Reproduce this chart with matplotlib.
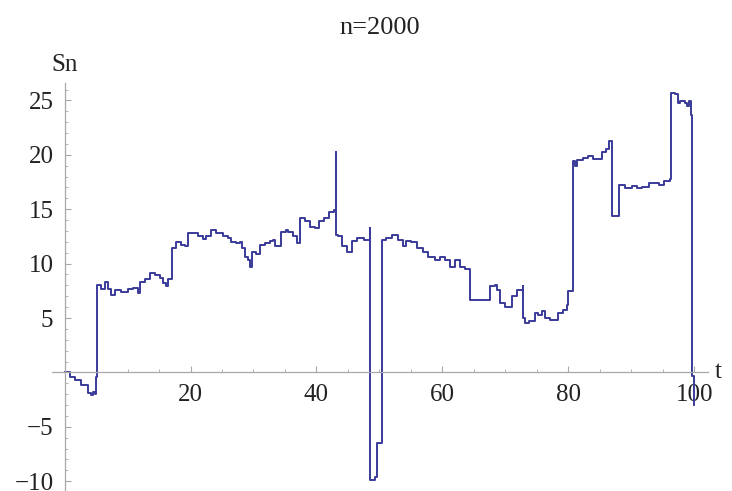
import matplotlib
matplotlib.use("Agg")
import matplotlib.pyplot as plt
from matplotlib.ticker import MultipleLocator, FixedLocator

# path of the walk (t, Sn)
t_vals = [0, 0.8, 1.6, 2.65, 3.7, 4.2, 4.5, 4.8, 5.0, 5.1, 5.15, 5.8, 6.35, 6.9, 7.4, 7.95, 9.0,
          10.1, 10.9, 11.7, 11.9, 12.7, 13.5, 14.3, 15.1, 15.6, 16.15, 16.4, 17.0, 17.1, 17.7,
          18.5, 19.2, 19.6, 20.6, 21.2, 22.0, 22.5, 23.3, 24.1, 25.2, 26.0, 26.5, 27.3, 27.9,
          28.2, 28.6, 29.1, 29.5, 29.8, 30.4, 31.0, 31.8, 32.6, 33.1, 33.5, 34.0, 34.4, 35.2,
          35.5, 36.3, 36.95, 37.4, 38.2, 39.0, 39.8, 40.35, 41.15, 41.95, 42.8, 43.0, 43.05,
          43.1, 43.5, 44.1, 44.9, 45.4, 45.7, 46.5, 47.6, 48.4, 48.45, 48.5, 49.3, 49.6, 50.3,
          50.35, 51.1, 52.05, 53.0, 53.8, 54.3, 55.1, 55.9, 57.0, 57.8, 58.85, 59.6, 60.4, 61.2,
          62.0, 62.8, 63.6, 64.3, 64.35, 67.3, 67.6, 68.4, 68.65, 69.2, 70.0, 70.2, 71.0, 71.8,
          72.75, 72.8, 73.1, 73.8, 74.3, 74.7, 75.2, 75.8, 76.3, 77.1, 77.9, 78.4, 79.2, 79.75,
          80.0, 80.65, 80.7, 81.1, 81.45, 82.4, 83.2, 84.0, 84.8, 85.3, 86.0, 86.4, 86.9, 86.95,
          88.0, 88.05, 89.0, 90.1, 90.9, 91.7, 92.75, 93.55, 94.35, 95.15, 96.2, 96.3, 97.0,
          97.4, 97.8, 98.6, 98.9, 99.2, 99.45, 99.7, 100]
sn_vals = [0, -0.4, -0.7, -1.15, -1.9, -2.1, -1.8, -2.0, -0.4, -0.4, 8.05, 7.7, 8.3, 7.7, 7.1, 7.6, 7.4,
           7.65, 7.75, 7.3, 8.35, 8.55, 9.1, 8.95, 8.65, 8.2, 7.9, 8.6, 8.6, 11.4, 12.0,
           11.7, 11.6, 12.85, 12.85, 12.5, 12.25, 12.5, 13.05, 12.8, 12.5, 12.35, 12.0, 11.9, 12.0,
           11.4, 10.65, 10.35, 9.7, 11.1, 10.9, 11.7, 11.85, 12.1, 12.2, 11.6, 11.6, 12.95, 13.1,
           12.95, 12.5, 11.9, 14.2, 13.9, 13.4, 13.3, 13.9, 14.2, 14.7, 14.9, 14.95, 20.3,
           12.65, 12.5, 11.6, 11.1, 11.1, 12.05, 12.35, 12.2, 12.2, 13.25, -9.9, -9.6, -6.5, -6.5,
           12.2, 12.35, 12.65, 12.2, 11.6, 12.05, 12.0, 11.4, 11.1, 10.65, 10.35, 10.65, 10.35, 9.7,
           10.3, 9.7, 9.5, 9.5, 6.65, 6.65, 7.9, 8.0, 7.6, 6.35, 6.05, 6.05, 7.0, 7.6,
           7.9, 5.0, 4.5, 4.7, 4.7, 5.45, 5.3, 5.6, 5.0, 4.8, 4.8, 5.45, 5.75, 6.2,
           7.5, 7.5, 19.4, 18.95, 19.55, 19.7, 19.9, 19.6, 19.6, 20.3, 20.5, 21.25, 21.25, 14.35,
           14.35, 17.25, 16.95, 17.1, 16.95, 17.0, 17.4, 17.4, 17.25, 17.55, 17.75, 25.7, 25.55,
           24.75, 24.9, 24.75, 24.45, 24.9, 23.7, -0.3, -3.0]

x_major = [20, 40, 60, 80, 100]
y_major = [-10, -5, 5, 10, 15, 20, 25]

plt.rcParams['font.family'] = ['Liberation Serif', 'DejaVu Serif']

fig = plt.figure(figsize=(7.32, 4.91), dpi=100)
ax = fig.add_axes([52 / 732, 0.0, 656 / 732, 1 - 83 / 491])

ax.plot(t_vals, sn_vals, color="#3a3a9a", lw=1.4, drawstyle="steps-post", clip_on=False)

ax.set_xlim(-2, 102.2)
ax.set_ylim(-10.9, 26.6)

for side in ["top", "right"]:
    ax.spines[side].set_visible(False)
ax.spines["left"].set_position(("data", 0))
ax.spines["bottom"].set_position(("data", 0))
for side in ["left", "bottom"]:
    ax.spines[side].set_color("#a8a8a8")
    ax.spines[side].set_linewidth(0.9)

ax.xaxis.set_major_locator(FixedLocator(x_major))
ax.xaxis.set_minor_locator(MultipleLocator(5))
ax.yaxis.set_major_locator(FixedLocator(y_major))
ax.yaxis.set_minor_locator(MultipleLocator(1))
ax.set_yticklabels(["\u2212" + str(-v) if v < 0 else str(v) for v in y_major])

ax.tick_params(which="both", direction="in", color="#a8a8a8", labelsize=18, labelcolor="#222222")
ax.tick_params(which="major", length=4, width=0.8)
ax.tick_params(which="minor", length=2.2, width=0.6)
ax.tick_params(axis="x", pad=8)
ax.tick_params(axis="y", pad=8)
for lab in ax.get_yticklabels():
    lab.set_verticalalignment("center_baseline")

ax.text(103.3, 0, "t", fontsize=18, va="center", ha="left", color="#222222", clip_on=False)
ax.text(0, 28.3, "Sn", fontsize=18, va="center", ha="center", color="#222222", clip_on=False)
fig.text(380 / 732, 1 - 28 / 491, "n=2000", fontsize=19, ha="center", va="center", color="#222222")

fig.savefig("out.png", dpi=100)
